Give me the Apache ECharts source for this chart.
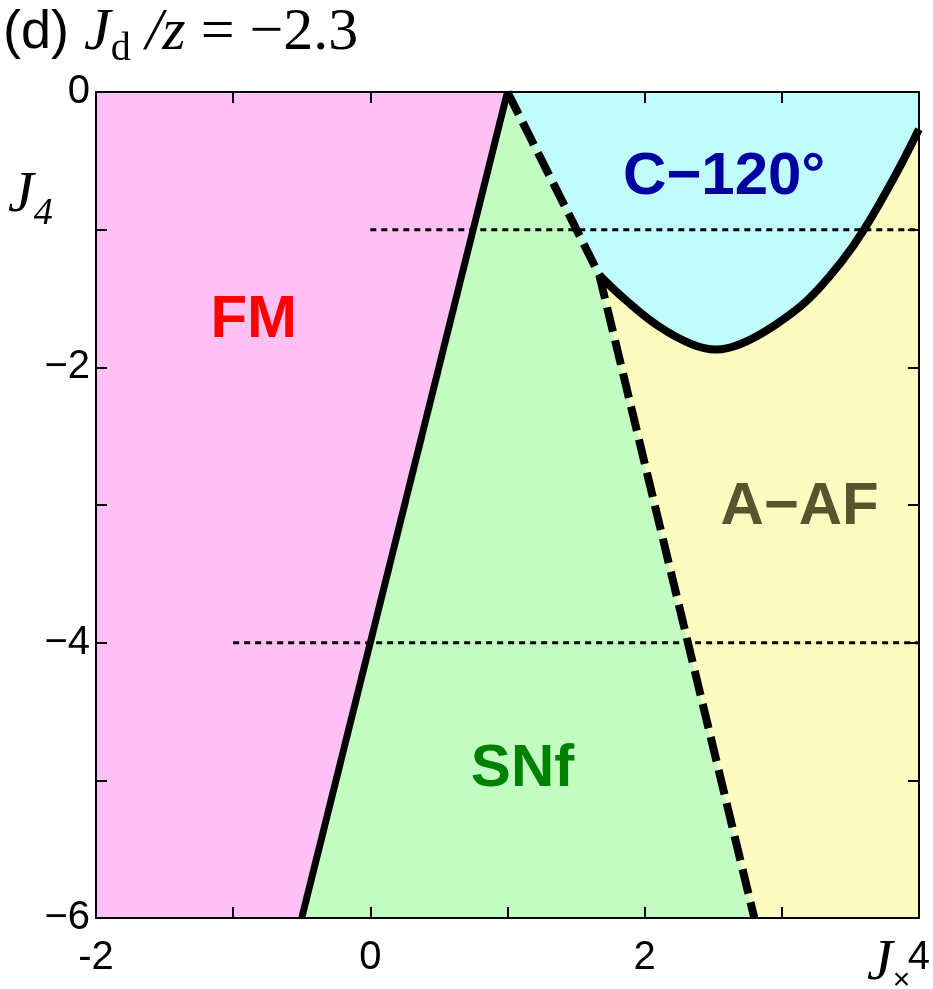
<!DOCTYPE html>
<html>
<head>
<meta charset="utf-8">
<script src="https://cdn.jsdelivr.net/npm/echarts@6/dist/echarts.min.js"></script>
<style>
  html, body { margin: 0; padding: 0; background: #fff; }
  #chart { width: 933px; height: 989px; }
</style>
</head>
<body>
<div id="chart"></div>
<script>
// phase boundaries, (J_x, J_4)
const fmLineX = [1, -0.5];
const fmLineY = [0, -6];
const dashX = [1, 1.67, 2.8];
const dashY = [0, -1.33, -6];
const curveX = [1.67, 1.85, 2.10, 2.34, 2.52, 2.70, 2.94, 3.19, 3.43, 3.60, 3.82, 4.0];
const curveY = [-1.33, -1.50, -1.70, -1.83, -1.87, -1.83, -1.70, -1.51, -1.24, -1.00, -0.62, -0.27];

// dotted guide lines
const guideY = [-1, -4];
const guideFrom = [0, -1];
const guideTo = [4, 4];

// phase names and where they sit
const phaseNames = ['FM', 'C\u2212120\u00b0', 'A\u2212AF', 'SNf'];
const phaseX = [-0.85, 2.58, 3.13, 1.11];
const phaseY = [-1.66, -0.62, -3.02, -4.92];
const phaseColors = ['#ff0000', '#0000a0', '#55552f', '#008000'];

const xTicks = [-2, 0, 2, 4];
const yTicks = [0, -2, -4, -6];

const zip = (xs, ys) => xs.map((x, i) => [x, ys[i]]);
const curve = zip(curveX, curveY);

const fmRegion = [[-2, 0], [fmLineX[0], fmLineY[0]], [fmLineX[1], fmLineY[1]], [-2, -6]];
const snfRegion = zip(dashX, dashY).concat([[fmLineX[1], fmLineY[1]]]);
const c120Region = [[1, 0], [4, 0]].concat(curve.slice().reverse());
const aafRegion = curve.concat([[4, -6], [dashX[2], dashY[2]]]);

function region(pts, color) {
  return {
    type: 'custom',
    silent: true,
    animation: false,
    z: 1,
    data: pts,
    renderItem(params, api) {
      if (params.dataIndex !== 0) return null;
      return {
        type: 'polygon',
        shape: { points: pts.map((p) => api.coord(p)) },
        style: { fill: color },
      };
    },
  };
}

function line(data, width, type, smooth) {
  return {
    type: 'line',
    data,
    smooth: smooth || false,
    symbol: 'none',
    silent: true,
    animation: false,
    z: 3,
    lineStyle: { color: '#000', width, type, cap: 'butt' },
  };
}

const tickFont = "'Liberation Sans Narrow', 'Liberation Sans', Arial, sans-serif";
const sans = "'Liberation Sans', Arial, sans-serif";
const serif = "'Liberation Serif', 'Times New Roman', serif";

function xAxis(pos, showLabel) {
  return {
    type: 'value',
    position: pos,
    min: -2,
    max: 4,
    interval: 1,
    z: 10,
    axisLine: { onZero: false, lineStyle: { color: '#000', width: 2 } },
    axisTick: { inside: true, length: 11, lineStyle: { color: '#000', width: 2 } },
    splitLine: { show: false },
    axisLabel: {
      show: showLabel,
      color: '#000',
      fontSize: 40,
      fontFamily: tickFont,
      margin: 20,
      formatter: (v) => (xTicks.includes(v) ? String(v) : ''),
    },
  };
}

function yAxis(pos, showLabel) {
  return {
    type: 'value',
    position: pos,
    min: -6,
    max: 0,
    interval: 1,
    z: 10,
    axisLine: { onZero: false, lineStyle: { color: '#000', width: 2 } },
    axisTick: { inside: true, length: 11, lineStyle: { color: '#000', width: 2 } },
    splitLine: { show: false },
    axisLabel: {
      show: showLabel,
      color: '#000',
      fontSize: 40,
      fontFamily: tickFont,
      margin: 6,
      formatter: (v) => (yTicks.includes(v) ? (v < 0 ? '\u2212' + (-v) : '0') : ''),
    },
  };
}

const chart = echarts.init(document.getElementById('chart'));

const series = [
  region(fmRegion, '#ffc0f4'),
  region(snfRegion, '#c2fcc2'),
  region(c120Region, '#c0fcfc'),
  region(aafRegion, '#fcfcc0'),
];
guideY.forEach((y, i) => {
  series.push(line([[guideFrom[i], y], [guideTo[i], y]], 3, [6, 5]));
});
series.push(line(zip(fmLineX, fmLineY), 7, 'solid'));
series.push(line(zip(dashX, dashY), 8, [25, 9]));
series.push(line(curve, 8, 'solid', 0.4));
series.push({
  type: 'scatter',
  symbolSize: 0,
  silent: true,
  animation: false,
  z: 5,
  data: phaseNames.map((name, i) => ({
    value: [phaseX[i], phaseY[i]],
    name,
    label: { color: phaseColors[i] },
  })),
  label: {
    show: true,
    position: 'inside',
    formatter: (p) => p.name,
    fontSize: 60,
    fontWeight: 'bold',
    fontFamily: sans,
    textBorderWidth: 0,
    textBorderColor: 'transparent',
    opacity: 1,
  },
});

chart.setOption({
  backgroundColor: '#fff',
  animation: false,
  title: [
    {
      text: '{s|(d)}{g| }{i|J}{sub|d}{i| /z}{r| = \u22122.3}',
      left: -2,
      top: -8,
      textStyle: {
        fontWeight: 'normal',
        rich: {
          s: { fontSize: 54, fontWeight: 'normal', fontFamily: sans, color: '#000' },
          g: { fontSize: 54, fontWeight: 'normal', fontFamily: sans, color: '#000' },
          i: { fontSize: 60, fontWeight: 'normal', fontStyle: 'italic', fontFamily: serif, color: '#000' },
          sub: { fontSize: 40, fontWeight: 'normal', fontFamily: serif, color: '#000', padding: [32, 0, 0, 0] },
          r: { fontSize: 60, fontWeight: 'normal', fontFamily: serif, color: '#000' },
        },
      },
    },
    {
      text: '{i|J}{sub|4}',
      left: 3,
      top: 154,
      textStyle: {
        fontWeight: 'normal',
        rich: {
          i: { fontSize: 58, fontWeight: 'normal', fontStyle: 'italic', fontFamily: serif, color: '#000' },
          sub: { fontSize: 38, fontWeight: 'normal', fontStyle: 'italic', fontFamily: serif, color: '#000', padding: [36, 0, 0, 0] },
        },
      },
    },
    {
      text: '{i|J}{sub|\u00d7}',
      left: 862,
      top: 927,
      textStyle: {
        fontWeight: 'normal',
        rich: {
          i: { fontSize: 58, fontWeight: 'normal', fontStyle: 'italic', fontFamily: serif, color: '#000' },
          sub: { fontSize: 30, fontWeight: 'normal', fontFamily: sans, color: '#000', padding: [34, 0, 0, 0] },
        },
      },
    },
  ],
  grid: { left: 96, right: 10, top: 92, bottom: 71, containLabel: false },
  xAxis: [xAxis('bottom', true), xAxis('top', false)],
  yAxis: [yAxis('left', true), yAxis('right', false)],
  series,
});
</script>
</body>
</html>
